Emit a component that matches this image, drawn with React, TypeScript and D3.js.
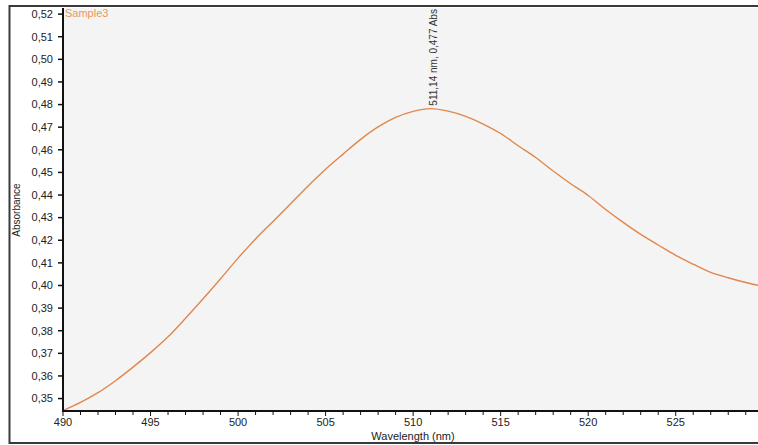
import { useEffect, useRef } from "react";
import * as d3 from "d3";

// spectrum, 1 nm steps
const wavelengths = [
  490, 491, 492, 493, 494, 495, 496, 497, 498, 499, 500, 501, 502, 503, 504,
  505, 506, 507, 508, 509, 510, 511, 512, 513, 514, 515, 516, 517, 518, 519,
  520, 521, 522, 523, 524, 525, 526, 527, 528, 529, 529.7,
];
const absorbance = [
  0.3447, 0.3483, 0.3526, 0.3579, 0.3639, 0.3703, 0.3773, 0.3855, 0.3941,
  0.403, 0.4121, 0.4206, 0.4283, 0.4361, 0.444, 0.4514, 0.4581, 0.4646,
  0.4701, 0.4743, 0.477, 0.4782, 0.4771, 0.4748, 0.4714, 0.4672, 0.4618,
  0.4566, 0.4506, 0.445, 0.4398, 0.4336, 0.4279, 0.4226, 0.4179, 0.4133,
  0.4094, 0.4058, 0.4034, 0.4013, 0.4001,
];

const yTicks = [
  0.35, 0.36, 0.37, 0.38, 0.39, 0.4, 0.41, 0.42, 0.43, 0.44, 0.45, 0.46, 0.47,
  0.48, 0.49, 0.5, 0.51, 0.52,
];
const xMajorTicks = [490, 495, 500, 505, 510, 515, 520, 525];
const xMinorTicks = [
  491, 492, 493, 494, 496, 497, 498, 499, 501, 502, 503, 504, 506, 507, 508,
  509, 511, 512, 513, 514, 516, 517, 518, 519, 521, 522, 523, 524, 526, 527,
  528, 529,
];

const seriesName = "Sample3";
const peakLabel = "511,14 nm, 0,477 Abs";
const peakX = 511.14;
const peakY = 0.4782;

const LINE = "#e0874c";
const FONT = "'Liberation Sans', Arial, sans-serif";

export default function App() {
  const ref = useRef<SVGSVGElement>(null);

  useEffect(() => {
    if (!ref.current) return;
    const width = 758;
    const height = 445;
    const plot = { left: 63, top: 8, right: 758, bottom: 411 };

    const svg = d3.select(ref.current);
    svg.selectAll("*").remove();
    svg.attr("width", width).attr("height", height);

    svg.append("rect").attr("width", width).attr("height", height).attr("fill", "#fff");

    const x = d3.scaleLinear().domain([490, 529.7]).range([plot.left, plot.right]);
    const y = d3
      .scaleLinear()
      .domain([0.3445, 0.5227])
      .range([plot.bottom, plot.top]);

    // outer frame (open on the right)
    svg
      .append("path")
      .attr("d", `M${width + 2},6 H9.5 V443 H${width + 2}`)
      .attr("fill", "none")
      .attr("stroke", "#3a3a3a")
      .attr("stroke-width", 2);

    // plot background
    svg
      .append("rect")
      .attr("x", plot.left)
      .attr("y", plot.top)
      .attr("width", plot.right - plot.left)
      .attr("height", plot.bottom - plot.top)
      .attr("fill", "#f4f4f4");

    // curve
    const line = d3
      .line<number>()
      .x((_, i) => x(wavelengths[i]))
      .y((d) => y(d))
      .curve(d3.curveMonotoneX);

    svg
      .append("path")
      .datum(absorbance)
      .attr("d", line)
      .attr("fill", "none")
      .attr("stroke", LINE)
      .attr("stroke-width", 1.4);

    // axes lines
    svg
      .append("line")
      .attr("x1", plot.left)
      .attr("x2", plot.left)
      .attr("y1", plot.top)
      .attr("y2", plot.bottom + 1)
      .attr("stroke", "#111")
      .attr("stroke-width", 2);
    svg
      .append("line")
      .attr("x1", plot.left - 1)
      .attr("x2", plot.right)
      .attr("y1", plot.bottom)
      .attr("y2", plot.bottom)
      .attr("stroke", "#111")
      .attr("stroke-width", 2);

    // y ticks + labels
    const yg = svg.append("g");
    yg.selectAll("line")
      .data(yTicks)
      .join("line")
      .attr("x1", plot.left - 5)
      .attr("x2", plot.left)
      .attr("y1", (d) => y(d))
      .attr("y2", (d) => y(d))
      .attr("stroke", "#111")
      .attr("stroke-width", 1.5);
    yg.selectAll("text")
      .data(yTicks)
      .join("text")
      .attr("x", 53)
      .attr("y", (d) => y(d))
      .attr("dy", "0.35em")
      .attr("text-anchor", "end")
      .attr("font-family", FONT)
      .attr("font-size", 11)
      .attr("fill", "#222")
      .text((d) => d.toFixed(2).replace(".", ","));

    // x ticks + labels
    const xg = svg.append("g");
    xg.selectAll("line.minor")
      .data(xMinorTicks)
      .join("line")
      .attr("class", "minor")
      .attr("x1", (d) => x(d))
      .attr("x2", (d) => x(d))
      .attr("y1", plot.bottom)
      .attr("y2", plot.bottom + 4)
      .attr("stroke", "#111")
      .attr("stroke-width", 1);
    xg.selectAll("line.major")
      .data(xMajorTicks)
      .join("line")
      .attr("class", "major")
      .attr("x1", (d) => x(d))
      .attr("x2", (d) => x(d))
      .attr("y1", plot.bottom)
      .attr("y2", plot.bottom + 5)
      .attr("stroke", "#111")
      .attr("stroke-width", 1);
    xg.selectAll("text")
      .data(xMajorTicks)
      .join("text")
      .attr("x", (d) => x(d))
      .attr("y", 426)
      .attr("text-anchor", "middle")
      .attr("font-family", FONT)
      .attr("font-size", 11)
      .attr("fill", "#222")
      .text((d) => `${d}`);

    // axis titles
    svg
      .append("text")
      .attr("x", 413)
      .attr("y", 440)
      .attr("text-anchor", "middle")
      .attr("font-family", FONT)
      .attr("font-size", 11)
      .attr("fill", "#222")
      .text("Wavelength (nm)");
    svg
      .append("text")
      .attr("transform", "translate(20,210) rotate(-90)")
      .attr("text-anchor", "middle")
      .attr("font-family", FONT)
      .attr("font-size", 10)
      .attr("fill", "#222")
      .text("Absorbance");

    // series name
    svg
      .append("text")
      .attr("x", plot.left + 2)
      .attr("y", 17)
      .attr("font-family", FONT)
      .attr("font-size", 11)
      .attr("fill", "#ec9460")
      .text(seriesName);

    // peak annotation
    svg
      .append("text")
      .attr("transform", `translate(${x(peakX) + 4},${y(peakY) - 3}) rotate(-90)`)
      .attr("text-anchor", "start")
      .attr("font-family", FONT)
      .attr("font-size", 10)
      .attr("fill", "#333")
      .text(peakLabel);
  }, []);

  return (
    <div style={{ position: "absolute", left: 0, top: 0 }}>
      <svg ref={ref} style={{ display: "block" }} />
    </div>
  );
}
